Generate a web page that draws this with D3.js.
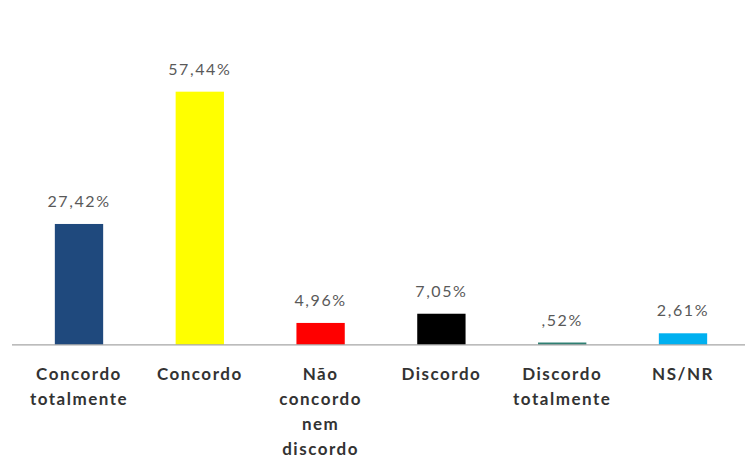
<!DOCTYPE html>
<html>
<head>
<meta charset="utf-8">
<script src="https://cdn.jsdelivr.net/npm/d3@7"></script>
<style>
  html, body { margin: 0; padding: 0; background: #fff; }
  svg { display: block; }
</style>
</head>
<body>
<svg id="chart" width="747" height="472"></svg>
<script>
// Survey answers and their shares (%)
const categories = [
  ["Concordo", "totalmente"],
  ["Concordo"],
  ["Não", "concordo", "nem", "discordo"],
  ["Discordo"],
  ["Discordo", "totalmente"],
  ["NS/NR"]
];
const values = [27.42, 57.44, 4.96, 7.05, 0.52, 2.61];
const valueLabels = ["27,42%", "57,44%", "4,96%", "7,05%", ",52%", "2,61%"];
const colors = ["#1f497d", "#ffff00", "#ff0000", "#000000", "#2f8073", "#00b0f0"];

const svg = d3.select("#chart");
const baseline = 344.8;

const x = d3.scaleBand()
  .domain(d3.range(values.length))
  .range([18.6, 743.4])
  .paddingInner(0.6)
  .paddingOuter(0.3);

const y = d3.scaleLinear()
  .domain([0, 60])
  .range([baseline, baseline - 264.4]);

// bars
svg.selectAll("rect.bar")
  .data(values)
  .join("rect")
  .attr("class", "bar")
  .attr("x", (d, i) => x(i))
  .attr("width", x.bandwidth())
  .attr("y", d => y(d))
  .attr("height", d => y(0) - y(d))
  .attr("fill", (d, i) => colors[i]);

// category axis line
svg.append("line")
  .attr("x1", 12).attr("x2", 745)
  .attr("y1", y(0)).attr("y2", y(0))
  .attr("stroke", "#a6a6a6")
  .attr("stroke-width", 1.2);

// value labels
svg.selectAll("text.val")
  .data(values)
  .join("text")
  .attr("class", "val")
  .attr("x", (d, i) => x(i) + x.bandwidth() / 2)
  .attr("y", d => y(d) - 17)
  .attr("text-anchor", "middle")
  .attr("font-family", "Lato, 'Open Sans', sans-serif")
  .attr("font-size", 16)
  .attr("letter-spacing", 1.6)
  .attr("fill", "#595959")
  .text((d, i) => valueLabels[i]);

// category labels
const cat = svg.selectAll("text.cat")
  .data(categories)
  .join("text")
  .attr("class", "cat")
  .attr("text-anchor", "middle")
  .attr("font-family", "Lato, 'Open Sans', sans-serif")
  .attr("font-weight", "bold")
  .attr("font-size", 17)
  .attr("letter-spacing", 1.5)
  .attr("fill", "#333333");

cat.selectAll("tspan")
  .data((lines, i) => lines.map(t => ({ t, i })))
  .join("tspan")
  .attr("x", d => x(d.i) + x.bandwidth() / 2)
  .attr("y", (d, j) => baseline + 35.5 + j * 24.8)
  .text(d => d.t);
</script>
</body>
</html>
